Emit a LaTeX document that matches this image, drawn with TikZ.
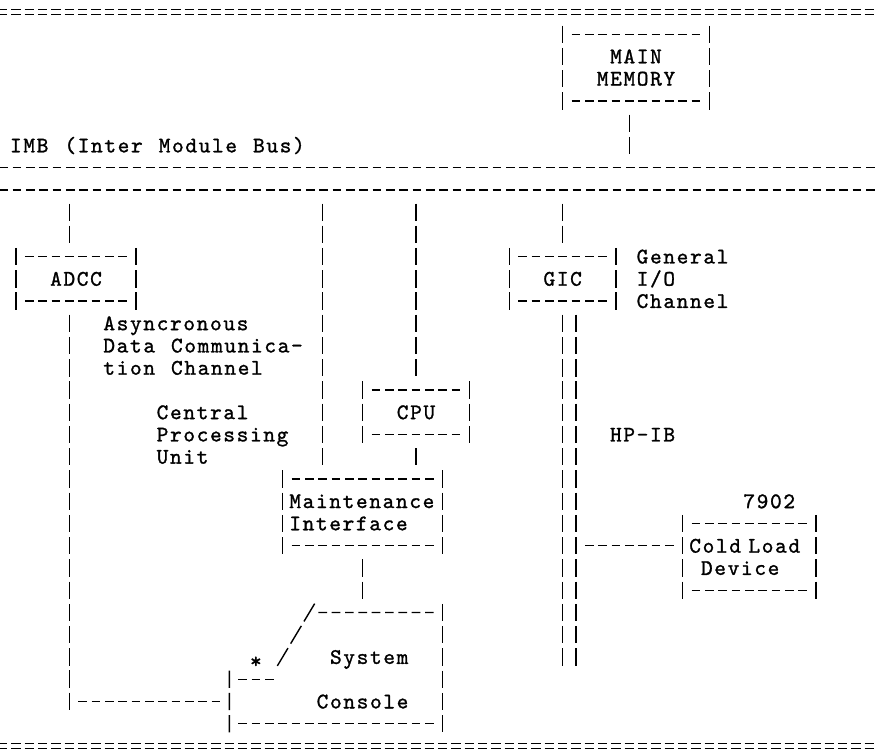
\documentclass[tikz,border=0pt]{standalone}
\usepackage{fontspec}
\newfontfamily\asciifont{lmmono10-regular.otf}[LetterSpace=7.4, WordSpace=1.2, FakeBold=1.2]
\usetikzlibrary{positioning}

\begin{document}
\begin{tikzpicture}[x=0.4cm, y=-0.6672cm, line width=1.2pt, font=\asciifont\fontsize{19pt}{18.98pt}\selectfont]

\tikzset{
  blk/.style={inner sep=0pt, outer sep=0pt},
  hbar/.style={dash pattern=on 0.26cm off 0.14cm},
  vbar/.style={dash pattern=on 0.52cm off 0.147cm},
  hlink/.style={hbar, shorten <=0.27cm, shorten >=0.27cm},
  vlink/.style={vbar, shorten <=0.407cm, shorten >=0.407cm},
  slash/.style={dash pattern=on 0.622cm off 0.156cm},
  lbl/.style={anchor=base west, inner sep=0pt},
  txtblock/.style={anchor=west, align=left, inner sep=0pt},
}

\useasboundingbox (-1.2,-0.54) rectangle (64.5,33.36);

% double rules top and bottom
\foreach \r in {0,33} {
  \draw[line width=1pt, dash pattern=on 0.28cm off 0.12cm] (-1.35,\r-0.11) -- (65.35,\r-0.11);
  \draw[line width=1pt, dash pattern=on 0.28cm off 0.12cm] (-1.35,\r+0.11) -- (65.35,\r+0.11);
}

% bus
\node[blk, minimum width=26.6cm, minimum height=0.6672cm] (imb) at (32,7.5) {};
\draw[hbar] (imb.north west) -- (imb.north east);
\draw[hbar] (imb.south west) -- (imb.south east);
\node[lbl] (imbtxt) at (-0.5,6.31) {IMB (Inter Module Bus)};

% units
\node[blk, minimum width=4.4cm, minimum height=2.0016cm, align=center] (mm) at (46.5,2.5) {MAIN\\MEMORY};
\node[blk, minimum width=3.6cm, minimum height=1.3344cm] (adcc) at (4.5,12) {ADCC};
\node[blk, minimum width=3.2cm, minimum height=1.3344cm] (gic) at (41,12) {GIC};
\node[blk, minimum width=3.2cm, minimum height=1.3344cm] (cpu) at (30,18) {CPU};
\node[blk, minimum width=4.8cm, minimum height=2.0016cm, text width=4.4cm, align=left] (mi) at (26,22.5) {Maintenance\\Interface};
\node[blk, minimum width=4cm, minimum height=2.0016cm, text width=3.6cm, align=left] (cld) at (55,24.5) {Cold Load\\\hphantom{x}Device};
\node[blk, minimum width=6.4cm, minimum height=3.336cm] (sc) at (24,29.5) {};

\foreach \b in {mm,adcc,gic,cpu,mi,cld} {
  \draw[hlink] (\b.north west) -- (\b.north east);
  \draw[hlink] (\b.south west) -- (\b.south east);
  \draw[vbar] ([yshift=0.26cm]\b.north west) -- ([yshift=-0.26cm]\b.south west);
  \draw[vbar] ([yshift=0.26cm]\b.north east) -- ([yshift=-0.26cm]\b.south east);
}

% system console outline
\coordinate (scnotch) at (16,30);
\coordinate (sccorner) at (22,27);
\draw[vbar] ([yshift=0.26cm]sc.north east) -- ([yshift=-0.26cm]sc.south east);
\draw[hlink] (sc.south west) -- (sc.south east);
\draw[vbar] ([yshift=0.26cm]scnotch) -- ([yshift=-0.26cm]sc.south west);
\draw[hbar, shorten <=0.27cm] (scnotch) -- ([xshift=1.33cm]scnotch);
\draw[slash] (19.6,29.4) -- (22.4,26.6);
\draw[hlink] (sccorner) -- (sc.north east);

% labels
\node[txtblock] (adcctxt) at (6.5,15) {Asyncronous\\Data Communica-\\tion Channel};
\node[txtblock] (cputxt) at (10.5,19) {Central\\Processing\\Unit};
\node[txtblock] (gictxt) at (46.5,12) {General\\I/O\\Channel};
\node[lbl] (hpib) at (44.5,19.31) {HP-IB};
\node[lbl] (cldtxt) at (54.5,22.31) {7902};
\node[lbl] (star) at (17.5,29.5) {*};
\node[lbl] (sctop) at (23.5,29.31) {System};
\node[lbl] (scbot) at (22.5,31.31) {Console};

% connectors
\coordinate (mmtap) at (46,0);
\coordinate (adcctap) at (4,0);
\coordinate (mitap) at (23,0);
\coordinate (adccend) at (4,31);
\coordinate (hpibend) at (41,29);
\coordinate (cltap) at (42,24);

\draw[vlink] (mm.south -| mmtap) -- (mmtap |- imb.north);
\draw[vlink] (imb.south -| adcctap) -- (adcc.north -| adcctap);
\draw[vlink] (imb.south -| mitap) -- (mi.north -| mitap);
\draw[vlink] (imb.south -| cpu.north) -- (cpu.north);
\draw[vlink] (imb.south -| gic.north) -- (gic.north);
\draw[vlink] (cpu.south) -- (cpu.south |- mi.north);
\draw[vlink] (mi.south) -- (mi.south |- sc.north);

\draw[vbar, shorten <=0.407cm, shorten >=-0.26cm] (adcc.south -| adccend) -- (adccend);
\draw[hlink] (adccend) -- (adccend -| sc.west);

\draw[vbar, shorten <=0.407cm, shorten >=-0.26cm] (gic.south) -- (gic.south |- hpibend);
\draw[vbar, shorten <=0.407cm, shorten >=-0.26cm] ([xshift=0.4cm]gic.south) -- ([xshift=0.4cm]gic.south |- hpibend);
\draw[hlink] (cltap) -- (cltap -| cld.west);

\end{tikzpicture}
\end{document}
